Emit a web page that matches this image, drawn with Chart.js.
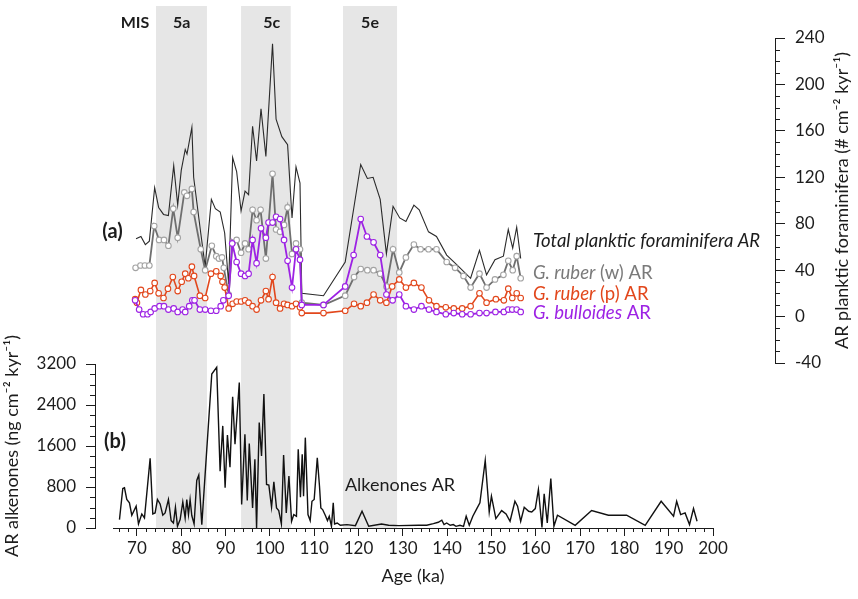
<!DOCTYPE html>
<html><head><meta charset="utf-8">
<script src="https://cdn.jsdelivr.net/npm/chart.js@4.4.1/dist/chart.umd.min.js"></script>
<style>html,body{margin:0;padding:0;background:#fff;}#c{display:block;}</style>
</head><body>
<canvas id="c" width="858" height="599"></canvas>
<script>
// ---------------- DATA ----------------
const totalAge = [69.8,70.9,71.9,72.8,74.0,74.9,76.0,77.1,78.3,79.2,80.0,80.9,81.3,82.4,82.8,84.4,85.4,86.8,87.7,88.8,89.8,90.7,91.6,92.5,93.5,94.4,95.2,96.1,97.0,98.0,99.1,100.6,101.4,102.7,104.0,105.0,105.9,106.8,107.2,112.1,117.0,120.5,122.0,123.3,124.9,126.3,127.8,129.3,130.7,132.5,133.7,135.8,137.6,139.9,142.1,143.7,145.3,147.3,148.9,150.8,152.7,153.8,154.8,155.7,156.6];
const totalAR  = [67,69,62,65,111,94,88,87,130,96,126,144,140,163,120,72,43,101,93,90,72,28,137,125,91,108,105,164,134,179,138,235,170,155,148,85,129,115,20,18,47,131,119,120,101,54,95,85,82,96,92,73,69,53,45,39,33,57,36,49,52,75,59,77,50];

const ruberWAge = [69.7,70.8,71.8,72.8,73.9,75.0,76.1,77.1,78.2,79.2,80.7,81.3,82.4,82.8,84.4,85.4,86.9,87.9,88.5,89.2,89.6,90.7,91.6,92.5,93.5,94.4,95.2,96.1,97.0,97.9,99.1,100.6,101.4,102.3,103.2,104.0,105.0,105.9,106.8,107.2,112.1,117.0,119.0,120.5,122.0,123.4,124.9,126.3,127.8,129.2,130.7,132.5,134.0,135.8,137.6,139.9,141.8,143.7,145.3,147.3,148.9,150.8,152.7,153.8,154.8,155.7,156.6];
const ruberWAR  = [42,44,44,44,78,66,66,61,93,68,107,104,110,90,58,40,61,52,50,51,42,19,64,66,55,63,58,92,83,92,50,123,75,73,79,94,54,63,58,12,10,18,34,41,40,40,37,26,58,38,51,62,58,58,58,47,42,35,25,37,25,32,36,48,40,52,33];

const ruberPAge = [69.6,70.0,70.9,71.9,73.0,74.0,74.9,76.0,77.0,78.1,79.2,80.1,80.9,81.6,82.4,82.9,84.2,85.4,86.7,87.9,88.9,89.3,89.8,90.7,91.6,92.5,93.5,94.4,95.2,96.1,97.0,98.0,99.1,99.7,100.6,101.4,102.3,103.2,104.0,105.0,105.9,106.8,107.2,112.1,117.0,119.0,120.5,121.9,123.4,124.9,126.3,127.6,129.2,130.7,132.5,134.2,135.9,137.6,139.7,141.5,143.4,145.3,147.3,148.9,151.0,152.8,153.8,154.7,155.7,156.6];
const ruberPAR  = [15,12,23,19,22,29,20,16,24,34,22,30,37,33,43,35,18,16,37,39,35,30,25,7,11,13,13,14,12,9,6,14,22,15,34,12,7,11,10,9,11,8,3,3,5,11,9,12,19,14,12,26,32,25,29,25,14,9,8,7,7,9,20,12,15,14,24,16,20,16];

const bullAge = [69.6,70.5,71.4,72.4,73.1,74.0,75.1,76.1,77.1,78.3,79.2,80.3,80.9,81.8,82.5,83.0,84.2,85.4,86.7,87.9,88.9,89.5,90.7,91.5,92.5,93.5,94.4,95.2,96.1,97.0,98.0,99.1,99.7,100.6,101.4,102.3,103.2,104.0,105.0,105.9,106.8,107.2,112.1,117.0,118.9,120.5,121.9,123.4,124.9,126.3,127.7,129.2,130.7,132.5,134.2,135.9,137.6,139.7,141.5,143.4,145.3,147.3,148.9,150.9,152.8,153.8,154.7,155.7,156.6];
const bullAR  = [14,6,2,2,4,7,9,9,6,7,4,6,4,9,14,14,6,6,5,5,9,14,18,63,47,37,35,37,66,46,76,68,81,81,86,84,66,48,25,58,49,10,10,26,53,84,69,64,53,19,14,19,9,6,9,6,4,2,3,2,2,3,3,4,4,6,6,6,4];

const alkAge = [66.06,66.81,67.19,67.71,68.31,68.84,69.82,70.35,71.1,71.7,72.98,73.58,74.1,74.63,75.23,75.84,76.36,77.11,77.72,78.24,78.69,79.15,79.75,80.35,80.88,81.25,81.63,82.0,82.38,82.9,83.5,83.96,84.64,86.89,88.0,88.77,89.37,89.9,90.42,91.0,91.6,92.13,93.1,93.63,94.37,94.9,95.35,96.1,96.62,97.0,97.6,98.12,98.65,99.25,99.77,100.38,100.9,101.5,102.0,102.6,103.1,103.7,104.3,104.9,105.4,106.0,106.4,106.9,107.3,107.6,108.0,108.6,109.1,109.5,110.0,110.7,111.2,111.5,111.9,112.5,113.0,113.4,113.9,114.3,114.6,115.2,115.9,117.4,119.3,120.8,122.3,125.2,126.8,129.1,133.6,135.4,136.9,138.0,138.8,139.3,139.9,140.7,141.4,142.0,142.9,143.7,144.3,145.0,145.8,146.7,147.4,148.6,149.5,150.0,151.0,152.3,153.3,154.2,155.3,155.9,156.6,157.4,158.4,159.1,159.9,160.6,161.4,161.9,162.6,163.4,164.1,164.9,168.9,172.6,176.4,180.5,184.7,188.3,191.1,191.8,192.7,193.7,194.7,195.6,196.4];
const alkAR  = [164,771,784,556,490,249,425,79,274,196,1359,274,294,556,470,249,294,556,145,98,405,33,164,509,196,556,262,556,243,79,928,1032,66,3004,3134,1110,1992,784,1815,1188,2560,1633,2840,458,1829,536,1646,392,1340,0,2056,1404,2612,850,836,405,901,392,340,79,1424,294,1012,131,262,229,1535,601,1437,620,1763,262,145,522,556,1371,816,392,360,249,145,229,33,490,79,98,53,66,46,327,33,79,53,46,53,53,85,112,151,66,98,53,66,33,53,33,229,53,229,379,490,1320,313,620,184,340,274,131,522,425,131,405,327,313,379,752,13,666,98,967,33,249,53,340,249,249,53,522,229,522,262,294,66,379,131];

// MIS stage bands (ka)
const misNames = ['5a','5c','5e'];
const misStart = [74.3, 93.5, 116.5];
const misEnd   = [85.8, 104.7, 128.7];
const misLabelAge = [80.1, 100.4, 122.6];

// tick labels
const xTickValues = [70,80,90,100,110,120,130,140,150,160,170,180,190,200];
const yFTickValues = [-40,0,40,80,120,160,200,240];
const yATickValues = [0,800,1600,2400,3200];
const xMinorStep = 2, yFMinorStep = 10, yAMinorStep = 200;

// ---------------- STYLE ----------------
const INK = '#1c1c1c';
const FONT = 'Lato';
const C_TOTAL = '#2a2a2a', C_W = '#6f6f6f', C_WPT = '#a3a3a3', C_P = '#e2471c', C_B = '#9d22e4';

const pts = (a, v) => a.map((x, i) => ({x, y: v[i]}));
const plain = v => String(v);

const bandPlugin = {
  id: 'bands',
  beforeDraw(chart) {
    const {ctx, chartArea} = chart;
    const x = chart.scales.x;
    const top = 6;
    ctx.save();
    ctx.fillStyle = '#e6e6e6';
    misStart.forEach((s, i) => {
      const l = x.getPixelForValue(s), r = x.getPixelForValue(misEnd[i]);
      ctx.fillRect(l, top, r - l, chartArea.bottom - top);
    });
    ctx.restore();
  }
};

const minorPlugin = {
  id: 'minor',
  afterDraw(chart) {
    const {ctx} = chart; const s = chart.scales;
    ctx.save(); ctx.strokeStyle = INK; ctx.lineWidth = 1; ctx.beginPath();
    for (let v = Math.ceil(s.x.min / xMinorStep) * xMinorStep; v <= s.x.max; v += xMinorStep) {
      if (v % 10 === 0) continue;
      const p = Math.round(s.x.getPixelForValue(v)) + 0.5;
      ctx.moveTo(p, s.x.top); ctx.lineTo(p, s.x.top + 4);
    }
    for (let v = s.yA.min; v <= s.yA.max; v += yAMinorStep) {
      if (v % 800 === 0) continue;
      const p = Math.round(s.yA.getPixelForValue(v)) + 0.5;
      ctx.moveTo(s.yA.right, p); ctx.lineTo(s.yA.right - 5, p);
    }
    for (let v = s.yF.min; v <= s.yF.max; v += yFMinorStep) {
      if (v % 40 === 0) continue;
      const p = Math.round(s.yF.getPixelForValue(v)) + 0.5;
      ctx.moveTo(s.yF.left, p); ctx.lineTo(s.yF.left + 5, p);
    }
    ctx.stroke(); ctx.restore();
  }
};

function rich(ctx, x, y, parts, size, color) {
  let cx = x;
  ctx.fillStyle = color;
  parts.forEach(([t, st]) => {
    ctx.font = st + ' ' + size + 'px ' + FONT;
    ctx.fillText(t, cx, y);
    cx += ctx.measureText(t).width;
  });
}

const textPlugin = {
  id: 'texts',
  afterDraw(chart) {
    const {ctx} = chart; const x = chart.scales.x;
    ctx.save();
    ctx.textBaseline = 'middle';
    ctx.textAlign = 'center'; ctx.fillStyle = INK;
    ctx.font = 'bold 16px ' + FONT;
    ctx.fillText('MIS', 135, 23);
    misNames.forEach((n, i) => ctx.fillText(n, x.getPixelForValue(misLabelAge[i]), 23));
    ctx.font = 'bold 20px ' + FONT;
    ctx.fillText('(a)', 112.5, 232);
    ctx.fillText('(b)', 115, 442);
    ctx.font = '18px ' + FONT;
    ctx.fillText('Alkenones AR', 400, 485);
    ctx.textAlign = 'left';
    rich(ctx, 533, 241, [['Total planktic foraminifera AR', 'italic']], 18.5, INK);
    rich(ctx, 533, 273, [['G. ruber', 'italic'], [' (w) AR', 'normal']], 18.5, '#7a7a7a');
    rich(ctx, 533, 294, [['G. ruber', 'italic'], [' (p) AR', 'normal']], 18.5, C_P);
    rich(ctx, 533, 313, [['G. bulloides', 'italic'], [' AR', 'normal']], 18.5, C_B);
    const yF = chart.scales.yF;
    ctx.translate(842, (yF.top + yF.bottom) / 2);
    ctx.rotate(-Math.PI / 2);
    ctx.textAlign = 'center';
    ctx.fillStyle = INK;
    ctx.font = '18px ' + FONT;
    ctx.fillText('AR planktic foraminifera (# cm⁻² kyr⁻¹)', 0, 0);
    ctx.restore();
  }
};

const tickFont = {family: FONT, size: 17};
const hidden = (extra) => Object.assign({type: 'linear', display: false}, extra);

new Chart(document.getElementById('c'), {
  type: 'line',
  data: {
    datasets: [
      {label: 'G. bulloides AR', data: pts(bullAge, bullAR), xAxisID: 'x', yAxisID: 'yF', borderColor: C_B, borderWidth: 1.8,
       pointRadius: 2.8, pointBackgroundColor: '#fff', pointBorderColor: C_B, pointBorderWidth: 1.1, order: 1},
      {label: 'G. ruber (p) AR', data: pts(ruberPAge, ruberPAR), xAxisID: 'x', yAxisID: 'yF', borderColor: C_P, borderWidth: 1.6,
       pointRadius: 2.8, pointBackgroundColor: '#fff', pointBorderColor: C_P, pointBorderWidth: 1.1, order: 2},
      {label: 'G. ruber (w) AR', data: pts(ruberWAge, ruberWAR), xAxisID: 'x', yAxisID: 'yF', borderColor: C_W, borderWidth: 1.8,
       pointRadius: 2.8, pointBackgroundColor: '#fff', pointBorderColor: C_WPT, pointBorderWidth: 1.1, order: 3},
      {label: 'Total planktic foraminifera AR', data: pts(totalAge, totalAR), xAxisID: 'x', yAxisID: 'yF', borderColor: C_TOTAL, borderWidth: 1.1,
       pointRadius: 0, order: 4},
      {label: 'Alkenones AR', data: pts(alkAge, alkAR), xAxisID: 'x', yAxisID: 'yA', borderColor: '#111', borderWidth: 1.4,
       pointRadius: 0, order: 5}
    ]
  },
  options: {
    responsive: false, animation: false, devicePixelRatio: 1,
    layout: {padding: {top: 38, left: 0, right: 0, bottom: 0}},
    plugins: {legend: {display: false}, tooltip: {enabled: false}},
    elements: {line: {tension: 0}},
    scales: {
      xPadL: hidden({position: 'bottom', stack: 'B', stackWeight: 18, weight: 1, afterFit: s => { s.height = 71; }}),
      x: {
        type: 'linear', position: 'bottom', stack: 'B', stackWeight: 600, weight: 2,
        min: 64.6, max: 200,
        afterBuildTicks: s => { s.ticks = xTickValues.map(v => ({value: v})); },
        afterFit: s => { s.height = 71; },
        ticks: {autoSkip: false, maxRotation: 0, padding: 2, font: tickFont, color: INK, callback: plain},
        grid: {drawOnChartArea: false, tickLength: 8, tickColor: INK},
        border: {color: INK, width: 1},
        title: {display: true, text: 'Age (ka)', font: {family: FONT, size: 18}, color: INK, padding: {top: 0, bottom: 12}}
      },
      xPadR: hidden({position: 'bottom', stack: 'B', stackWeight: 62, weight: 3, afterFit: s => { s.height = 71; }}),
      yPadL: hidden({position: 'left', stack: 'L', stackWeight: 326, weight: 2, afterFit: s => { s.width = 95; }}),
      yA: {
        type: 'linear', position: 'left', stack: 'L', stackWeight: 164, weight: 1,
        min: 0, max: 3200,
        afterBuildTicks: s => { s.ticks = yATickValues.map(v => ({value: v})); },
        afterFit: s => { s.width = 95; },
        ticks: {padding: 10, font: tickFont, color: INK, callback: plain},
        grid: {drawOnChartArea: false, tickLength: 9, tickColor: INK},
        border: {color: INK, width: 1},
        title: {display: true, text: 'AR alkenones (ng cm⁻² kyr⁻¹)', font: {family: FONT, size: 18}, color: INK, padding: {top: 1, bottom: 0}}
      },
      yF: {
        type: 'linear', position: 'right', stack: 'R', stackWeight: 325, weight: 1,
        min: -40, max: 240,
        afterBuildTicks: s => { s.ticks = yFTickValues.map(v => ({value: v})); },
        afterFit: s => { s.width = 83; },
        ticks: {padding: 10, font: tickFont, color: INK, callback: plain},
        grid: {drawOnChartArea: false, tickLength: 10, tickColor: INK},
        border: {color: INK, width: 1},
        title: {display: false}
      },
      yPadR: hidden({position: 'right', stack: 'R', stackWeight: 165, weight: 2, afterFit: s => { s.width = 83; }})
    }
  },
  plugins: [bandPlugin, minorPlugin, textPlugin]
});
</script>
</body></html>
